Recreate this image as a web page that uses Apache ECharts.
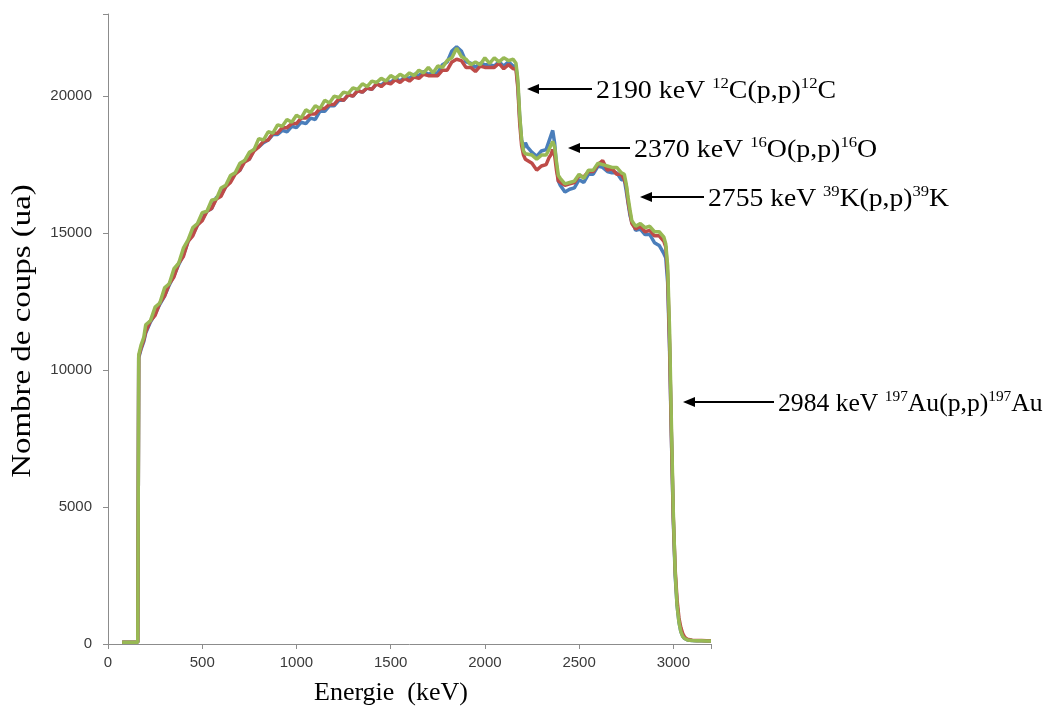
<!DOCTYPE html>
<html>
<head>
<meta charset="utf-8">
<script src="https://cdn.jsdelivr.net/npm/echarts@6/dist/echarts.min.js"></script>
<style>html,body{margin:0;padding:0;background:#fff;}#chart{width:1051px;height:713px;}</style>
</head>
<body>
<div id="chart"></div>
<script>
// Energies (keV)
const energies = [
  75, 100, 125, 158, 163, 175, 190,
  200, 225, 250, 275, 300, 325, 350, 375, 400, 425,
  450, 475, 500, 525, 550, 575, 600, 625, 650, 675,
  700, 725, 750, 775, 800, 825, 850, 875, 900, 925,
  950, 975, 1000, 1025, 1050, 1075, 1100, 1125, 1150, 1175,
  1200, 1225, 1250, 1275, 1300, 1325, 1350, 1375, 1400, 1425,
  1450, 1475, 1500, 1525, 1550, 1575, 1600, 1625, 1650, 1675,
  1700, 1725, 1750, 1775, 1800, 1825, 1850, 1875, 1900, 1925,
  1950, 1975, 2000, 2025, 2050, 2075, 2100, 2125, 2150,
  2165, 2175, 2185, 2195, 2205, 2215,
  2225, 2250, 2275, 2300, 2325,
  2340, 2350, 2360, 2370, 2380, 2390, 2400,
  2425, 2450, 2475, 2500, 2525, 2550, 2575, 2600, 2625, 2650, 2675, 2700, 2725,
  2740, 2750, 2760, 2770, 2780, 2790, 2800,
  2825, 2850, 2875, 2900, 2925, 2950,
  2960, 2970, 2980, 2990, 3000, 3010, 3020, 3030, 3040, 3050, 3060, 3075, 3100, 3125, 3150, 3175, 3200
];

const countsBlue = [
  60, 60, 60, 60, 10450, 10750, 11050,
  11350, 11750, 12050, 12400, 12700, 13100, 13450, 13850, 14200, 14700,
  14950, 15300, 15500, 15800, 15900, 16300, 16400, 16700, 16900, 17200,
  17300, 17650, 17700, 18050, 18150, 18300, 18400, 18600, 18600, 18750,
  18700, 18900, 18850, 19050, 19000, 19200, 19150, 19450, 19450, 19650,
  19650, 19850, 19850, 20050, 20000, 20200, 20150, 20300, 20250, 20450,
  20400, 20550, 20500, 20650, 20550, 20700, 20650, 20800, 20750, 20900,
  20800, 20850, 20850, 21150, 21250, 21650, 21800, 21650, 21250, 21200,
  21050, 21200, 21150, 21150, 21100, 21250, 21100, 21250, 21100,
  21100, 20400, 19200, 18400, 18100, 18300,
  18150, 17950, 17800, 18000, 18050,
  18350, 18550, 18750, 18300, 17500, 16900, 16750,
  16500, 16600, 16650, 16950, 16850, 17150, 17150, 17450, 17400, 17250, 17200, 17200, 16950,
  16950, 16550, 16100, 15650, 15400, 15300, 15100,
  15150, 14950, 14950, 14650, 14550, 14250,
  14100, 13200, 10800, 7500, 4500, 2500, 1400, 800, 450, 280, 200, 150, 130, 120, 120, 110, 110
];

const countsRed = [
  60, 60, 60, 60, 10500, 10800, 11100,
  11400, 11800, 12000, 12450, 12700, 13150, 13400, 13900, 14150, 14700,
  14900, 15300, 15450, 15800, 15900, 16250, 16350, 16700, 16850, 17150,
  17300, 17600, 17700, 18000, 18150, 18350, 18400, 18650, 18650, 18850,
  18850, 19000, 19000, 19200, 19200, 19350, 19350, 19550, 19550, 19700,
  19700, 19900, 19850, 20050, 20000, 20200, 20150, 20300, 20250, 20450,
  20350, 20500, 20450, 20600, 20500, 20650, 20550, 20700, 20650, 20800,
  20750, 20750, 20750, 20950, 20950, 21250, 21350, 21300, 21050, 21050,
  20900, 21100, 21050, 21050, 21050, 21200, 21000, 21150, 21000,
  21000, 20300, 19000, 18200, 17850, 17700,
  17650, 17550, 17300, 17450, 17500,
  17750, 17850, 18050, 17850, 17300, 16900, 16850,
  16750, 16800, 16850, 17100, 17050, 17250, 17250, 17500, 17650, 17300, 17350, 17150, 17150,
  16950, 16750, 16150, 15750, 15350, 15300, 15150,
  15250, 15050, 15100, 14900, 14900, 14700,
  14500, 13500, 11000, 7600, 4600, 2700, 1600, 950, 600, 380, 250, 170, 140, 130, 130, 120, 120
];

const countsGreen = [
  60, 60, 60, 60, 10550, 10900, 11200,
  11650, 11800, 12300, 12450, 13000, 13150, 13700, 13900, 14450, 14750,
  15200, 15350, 15750, 15800, 16200, 16250, 16650, 16750, 17100, 17200,
  17550, 17650, 17950, 18050, 18450, 18400, 18700, 18650, 18950, 18900,
  19150, 19050, 19300, 19200, 19500, 19400, 19650, 19550, 19850, 19750,
  20000, 19950, 20150, 20100, 20300, 20250, 20450, 20350, 20550, 20500,
  20650, 20550, 20750, 20650, 20800, 20700, 20850, 20750, 20950, 20850,
  21050, 20850, 21100, 21050, 21300, 21400, 21750, 21450, 21350, 21150,
  21250, 21150, 21400, 21200, 21400, 21250, 21400, 21300, 21350,
  21200, 20600, 19300, 18400, 18000, 17900,
  17850, 17850, 17700, 17850, 17850,
  18050, 18100, 18350, 18150, 17600, 17100, 17000,
  16800, 16850, 16900, 17150, 17000, 17300, 17300, 17550, 17500, 17450, 17400, 17400, 17200,
  17150, 16800, 16300, 15850, 15450, 15400, 15250,
  15350, 15200, 15250, 15050, 15050, 14850,
  14600, 13800, 11500, 8000, 4800, 2600, 1400, 800, 450, 280, 200, 150, 130, 120, 120, 110, 110
];

const seriesNames = ['Série 1', 'Série 2', 'Série 3'];
const seriesColors = ['#4A7EBB', '#BE4B48', '#98B954'];
const xTicks = [0, 500, 1000, 1500, 2000, 2500, 3000];
const yTicks = [0, 5000, 10000, 15000, 20000];
const xTitle = 'Energie  (keV)';
const yTitle = 'Nombre de coups (ua)';

const annotations = [
  { energy: '2190', iso: '12', el: 'C', tail: '(p,p)' },
  { energy: '2370', iso: '16', el: 'O', tail: '(p,p)' },
  { energy: '2755', iso: '39', el: 'K', tail: '(p,p)' },
  { energy: '2984', iso: '197', el: 'Au', tail: '(p,p)' }
];
// layout (pixels) for annotation arrows: [arrowTipX, arrowTailX, y, textScaleX]
const annoLayout = [[527, 592, 89, 1.115], [568, 630, 148, 1.115], [640, 704, 197, 1.105], [683, 774, 402, 1.025]];

const chart = echarts.init(document.getElementById('chart'), null, { renderer: 'canvas' });

const allValues = [countsBlue, countsRed, countsGreen];
const series = allValues.map((vals, i) => ({
  name: seriesNames[i],
  type: 'line',
  data: energies.map((e, k) => [e, vals[k]]),
  showSymbol: false,
  symbol: 'none',
  lineStyle: { width: 3.5, color: seriesColors[i] },
  itemStyle: { color: seriesColors[i] },
  z: 2 + i,
  animation: false
}));

const graphics = [];
annotations.forEach((a, i) => {
  const [tip, tail, y, sx] = annoLayout[i];
  graphics.push({
    type: 'line', shape: { x1: tip + 9, y1: y, x2: tail, y2: y },
    style: { stroke: '#000', lineWidth: 2 }, z: 10
  });
  graphics.push({
    type: 'polygon', shape: { points: [[tip, y], [tip + 12, y - 5], [tip + 12, y + 5]] },
    style: { fill: '#000' }, z: 10
  });
  graphics.push({
    type: 'text', x: tail + 4, y: y - 15, scaleX: sx, z: 10,
    style: {
      text: '{m|' + a.energy + ' keV }{s|' + a.iso + '}{m|' + a.el + a.tail + '}{s|' + a.iso + '}{m|' + a.el + '}',
      rich: {
        m: { fontFamily: 'Liberation Serif', fontSize: 25, lineHeight: 30, fill: '#000', verticalAlign: 'bottom' },
        s: { fontFamily: 'Liberation Serif', fontSize: 15, lineHeight: 30, fill: '#000', verticalAlign: 'top', padding: [3, 0, 0, 0] }
      }
    }
  });
});
// axis titles
graphics.push({
  type: 'text', x: 391, y: 693, z: 10,
  style: { text: xTitle, fontFamily: 'Liberation Serif', fontSize: 26, fill: '#000', align: 'center', verticalAlign: 'middle' }
});
graphics.push({
  type: 'text', x: 23, y: 331, rotation: Math.PI / 2, scaleX: 1.22, z: 10,
  style: { text: yTitle, fontFamily: 'Liberation Serif', fontSize: 27, fill: '#000', align: 'center', verticalAlign: 'middle' }
});

chart.setOption({
  animation: false,
  backgroundColor: '#ffffff',
  grid: { left: 108, right: 340, top: 14, bottom: 69, containLabel: false },
  xAxis: {
    type: 'value', min: 0, max: 3200, interval: 500,
    axisLine: { show: true, lineStyle: { color: '#8c8c8c', width: 1 } },
    axisTick: { show: true, inside: false, length: 5, lineStyle: { color: '#8c8c8c' } },
    axisLabel: {
      fontFamily: 'Liberation Sans', fontSize: 15, color: '#3a3a3a', margin: 11,
      formatter: v => (xTicks.indexOf(v) >= 0 ? String(v) : '')
    },
    splitLine: { show: false }
  },
  yAxis: {
    type: 'value', min: 0, max: 23000, interval: 5000,
    axisLine: { show: true, lineStyle: { color: '#8c8c8c', width: 1 } },
    axisTick: { show: true, inside: false, length: 5, lineStyle: { color: '#8c8c8c' } },
    axisLabel: {
      fontFamily: 'Liberation Sans', fontSize: 15, color: '#3a3a3a', margin: 16,
      formatter: v => (yTicks.indexOf(v) >= 0 ? String(v) : '')
    },
    splitLine: { show: false }
  },
  series: series,
  graphic: graphics
});
</script>
</body>
</html>
